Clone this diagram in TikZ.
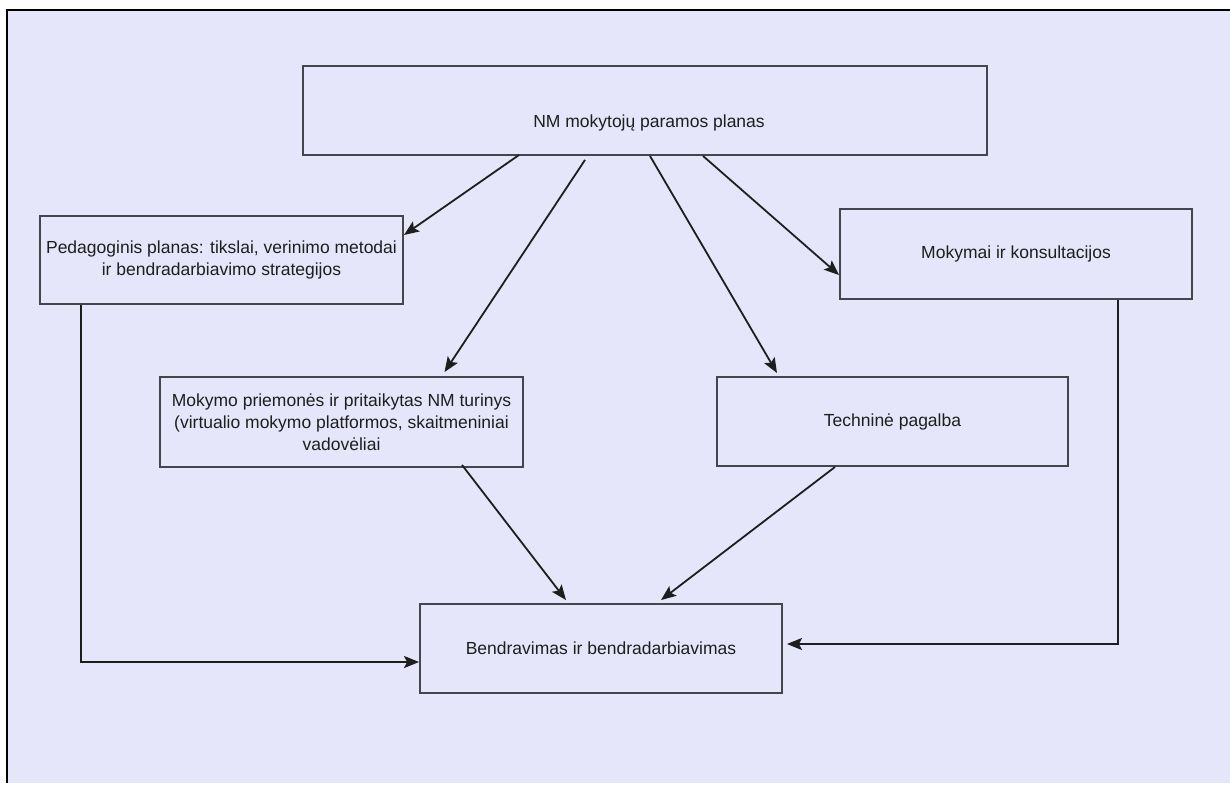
\documentclass[tikz,border=0pt]{standalone}
\usepackage{fontspec}
\setmainfont{Liberation Sans}
\usetikzlibrary{arrows.meta}
\definecolor{panel}{HTML}{E6E6FA}
\definecolor{boxline}{HTML}{45454D}
\definecolor{ink}{HTML}{1E1E1E}
\tikzset{
  box/.style={rectangle, draw=boxline, line width=1.9pt, text=ink, align=center,
    inner sep=0pt, font=\fontsize{17.5}{22}\selectfont},
  link/.style={draw=ink, line width=1.8pt, -{Stealth[length=15pt,width=12pt,inset=3pt]}}
}
\begin{document}
\begin{tikzpicture}[x=1pt, y=-1pt]
    \useasboundingbox (0,0) rectangle (1230,793);
    % panel
    \fill[panel] (7,10) rectangle (1230,783);
    \draw[line width=2.4pt] (7,783) -- (7,10) -- (1230,10);
    \begin{scope}[every node/.style={box}]
        \node[minimum width=684pt, minimum height=89pt,
              label={[box, draw=none, xshift=4pt, yshift=-12pt]center:NM mokytojų paramos planas}]
              (plan) at (645,110.5) {};
        \node[minimum width=363pt, minimum height=88pt] (ped) at (221.5,260)
              {Pedagoginis planas: tikslai, verinimo metodai\\ir bendradarbiavimo strategijos};
        \node[minimum width=352pt, minimum height=90pt] (train) at (1016,254) {Mokymai ir konsultacijos};
        \node[minimum width=363pt, minimum height=90pt] (tools) at (341.5,422)
              {Mokymo priemonės ir pritaikytas NM turinys\\(virtualio mokymo platformos, skaitmeniniai\\vadovėliai};
        \node[minimum width=351pt, minimum height=89pt] (tech) at (892.5,421.5) {Techninė pagalba};
        \node[minimum width=362pt, minimum height=89pt] (comm) at (601,648.5) {Bendravimas ir bendradarbiavimas};
    \end{scope}
    \begin{scope}[every edge/.style={link}]
        \path ([xshift=-126pt,yshift=1pt]plan.south) edge ([yshift=25pt]ped.east);
        \path ([xshift=-60pt,yshift=-4pt]plan.south) edge ([xshift=103pt,yshift=4pt]tools.north);
        \path ([xshift=5pt]plan.south) edge ([xshift=-115.5pt,yshift=3pt]tech.north);
        \path ([xshift=58pt]plan.south) edge ([yshift=-21pt]train.west);
        \path ([xshift=120.5pt,yshift=3pt]tools.south) edge ([xshift=-35pt,yshift=3pt]comm.north);
        \path ([xshift=-57.5pt]tech.south) edge ([xshift=60pt,yshift=3pt]comm.north);
    \end{scope}
    \draw[link] ([xshift=-140.5pt]ped.south) |- ([yshift=-13.5pt]comm.west);
    \draw[link] ([xshift=102pt]train.south) |- ([xshift=4pt,yshift=4.5pt]comm.east);
\end{tikzpicture}
\end{document}
